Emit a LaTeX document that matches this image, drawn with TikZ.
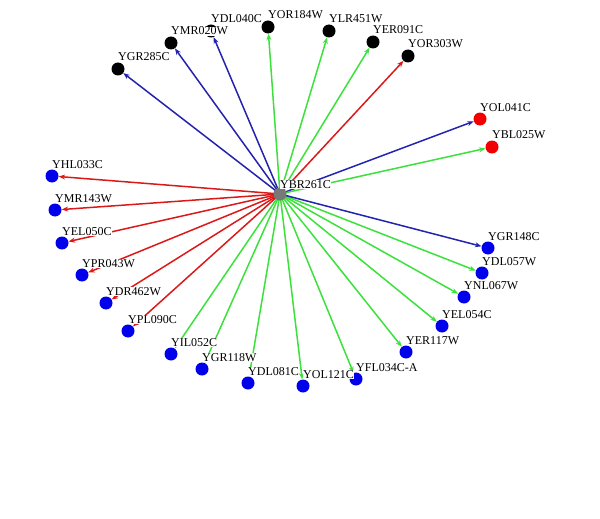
\documentclass[tikz,border=0pt]{standalone}
\usepackage{fontspec}
\setmainfont{Liberation Serif}
\usetikzlibrary{arrows.meta,backgrounds}
\definecolor{eblue}{RGB}{35,35,175}
\definecolor{egreen}{RGB}{60,225,60}
\definecolor{ered}{RGB}{220,25,25}
\definecolor{nblue}{RGB}{0,0,235}
\definecolor{nred}{RGB}{240,0,0}
\definecolor{hubgray}{RGB}{120,120,120}
\begin{document}
\begin{tikzpicture}[x=1pt,y=-1pt,
  gene/.style={circle, inner sep=0pt, minimum size=13pt},
  link/.style={line width=1.5pt, -{Stealth[length=6.5pt,width=5pt]}},
  tag/.style={fill=white, inner sep=0.5pt, anchor=base west,
    font=\fontsize{12}{12}\selectfont}
]
\useasboundingbox (0,0) rectangle (600,519);

% hub protein
\node[gene, fill=hubgray] (YBR261C) at (280,194) {};

% partners: name/x/y/colour
\foreach \n/\x/\y/\f in {
  YGR285C/118/69/black, YMR020W/171/43/black, YDL040C/211/31/black,
  YOR184W/268/27/black, YLR451W/329/31/black, YER091C/373/42/black,
  YOR303W/408/56/black,
  YOL041C/480/119/nred, YBL025W/492/147/nred,
  YHL033C/52/176/nblue, YMR143W/55/210/nblue, YEL050C/62/243/nblue,
  YPR043W/82/275/nblue, YDR462W/106/303/nblue, YPL090C/128/331/nblue,
  YIL052C/171/354/nblue, YGR118W/202/369/nblue, YDL081C/248/383/nblue,
  YOL121C/303/386/nblue, YFL034C-A/356/379/nblue, YER117W/406/352/nblue,
  YEL054C/442/326/nblue, YNL067W/464/297/nblue, YDL057W/482/273/nblue,
  YGR148C/488/248/nblue} {
  \node[gene, fill=\f] (\n) at (\x,\y) {};
}

% interactions
\begin{scope}[on background layer]
  \foreach \n/\c in {
    YGR285C/eblue, YMR020W/eblue, YDL040C/eblue, YOR184W/egreen,
    YLR451W/egreen, YER091C/egreen, YOR303W/ered, YOL041C/eblue,
    YBL025W/egreen, YHL033C/ered, YMR143W/ered, YEL050C/ered,
    YPR043W/ered, YDR462W/ered, YPL090C/ered, YIL052C/egreen,
    YGR118W/egreen, YDL081C/egreen, YOL121C/egreen, YFL034C-A/egreen,
    YER117W/egreen, YEL054C/egreen, YNL067W/egreen, YDL057W/egreen,
    YGR148C/eblue}
    \draw[link, \c] (YBR261C.center) -- (\n);
\end{scope}

% names
\foreach \n in {
  YGR285C, YDL040C, YMR020W, YOR184W, YLR451W, YER091C, YOR303W,
  YOL041C, YBL025W, YHL033C, YMR143W, YEL050C, YPR043W, YDR462W,
  YPL090C, YIL052C, YGR118W, YDL081C, YOL121C, YFL034C-A, YER117W,
  YEL054C, YNL067W, YDL057W, YGR148C}
  \node[tag] (\n-name) at ([xshift=-0.5pt, yshift=8pt]\n.center) {\n};
\node[tag] (YBR261C-name) at ([xshift=-0.5pt, yshift=6pt]YBR261C.center) {YBR261C};
\end{tikzpicture}
\end{document}
